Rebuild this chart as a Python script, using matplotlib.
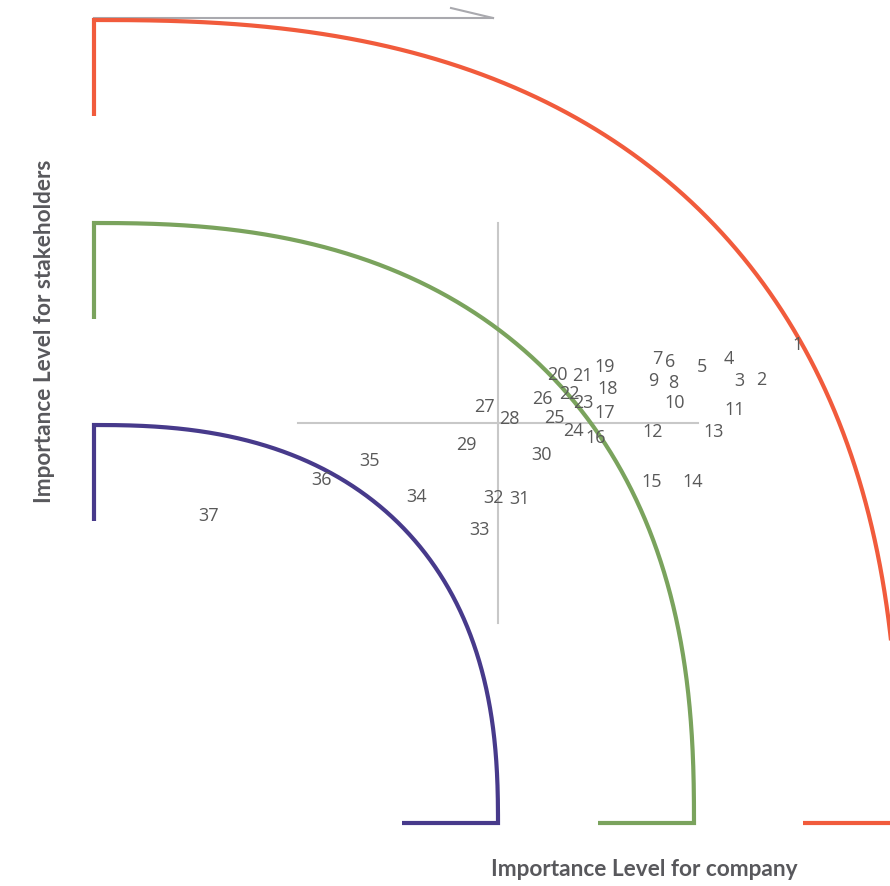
import numpy as np
import matplotlib
matplotlib.use("Agg")
import matplotlib.pyplot as plt

# ---- data -------------------------------------------------------------
labels = [str(i) for i in range(1, 38)]
company = [7.04, 6.67, 6.45, 6.35, 6.08, 5.76, 5.63, 5.79, 5.59, 5.81,
           6.41, 5.59, 6.20, 5.99, 5.58, 5.02, 5.11, 5.14, 5.11, 4.63,
           4.88, 4.75, 4.89, 4.79, 4.60, 4.48, 3.90, 4.15, 3.72, 4.48,
           4.25, 3.99, 3.86, 3.23, 2.75, 2.27, 1.15]
stakeholders = [4.80, 4.45, 4.44, 4.66, 4.58, 4.63, 4.66, 4.42, 4.44, 4.22,
                4.15, 3.93, 3.93, 3.43, 3.43, 3.87, 4.12, 4.36, 4.58, 4.50,
                4.49, 4.31, 4.22, 3.94, 4.07, 4.26, 4.18, 4.06, 3.80, 3.70,
                3.26, 3.27, 2.95, 3.28, 3.64, 3.45, 3.09]

zone_radii = [4.04, 6.0, 8.05]
zone_colors = ["#473a8b", "#7aa35d", "#f15b3c"]
cross_center = (4.04, 4.0)
cross_half = 2.0

x_label = "Importance Level for company"
y_label = "Importance Level for stakeholders"

# ---- figure -----------------------------------------------------------
fig = plt.figure(figsize=(8.9, 8.86), dpi=100)
ax = fig.add_axes([0, 0, 1, 1])
ax.set_xlim(-0.94, 7.96)
ax.set_ylim(-0.63, 8.23)
ax.axis("off")

t = np.linspace(0, np.pi / 2, 400)
stub = 0.96
for r, c in zip(zone_radii, zone_colors):
    n = 2.5 if r > 7 else 2.45
    ry = {4.04: 3.98, 6.0: 6.0, 8.05: 8.03}[r]
    xs = r * np.sin(t) ** (2 / n)
    ys = ry * np.cos(t) ** (2 / n)
    px = np.concatenate([[0, 0], xs, [r - stub]])
    py = np.concatenate([[ry - stub, ry], ys, [0]])
    ax.plot(px, py, color=c, lw=3.0, solid_joinstyle="miter",
            solid_capstyle="butt", zorder=2)

# gray cross
cx, cy = cross_center
ax.plot([cx - cross_half, cx + cross_half], [cy, cy], color="#c8c8c8", lw=1.5, zorder=1)
ax.plot([cx, cx], [cy - cross_half, cy + cross_half], color="#c8c8c8", lw=1.5, zorder=1)

# top arrow
ax.plot([0, 3.99], [8.05, 8.05], color="#a9a9ae", lw=1.5, zorder=1)
ax.plot([3.57, 3.99], [8.15, 8.05], color="#a9a9ae", lw=1.5, zorder=1)

for lab, x, y in zip(labels, company, stakeholders):
    ax.text(x, y - 0.02, lab, ha="center", va="center", fontsize=13,
            family="Open Sans", color="#595959", zorder=3)

ax.text(5.50, -0.47, x_label, ha="center", va="center", fontsize=16.3,
        family="Lato", fontweight="bold", color="#58585c")
ax.text(-0.49, 4.92, y_label, ha="center", va="center", rotation=90,
        fontsize=16.3, family="Lato", fontweight="bold", color="#58585c")

fig.savefig("out.png", dpi=100)
